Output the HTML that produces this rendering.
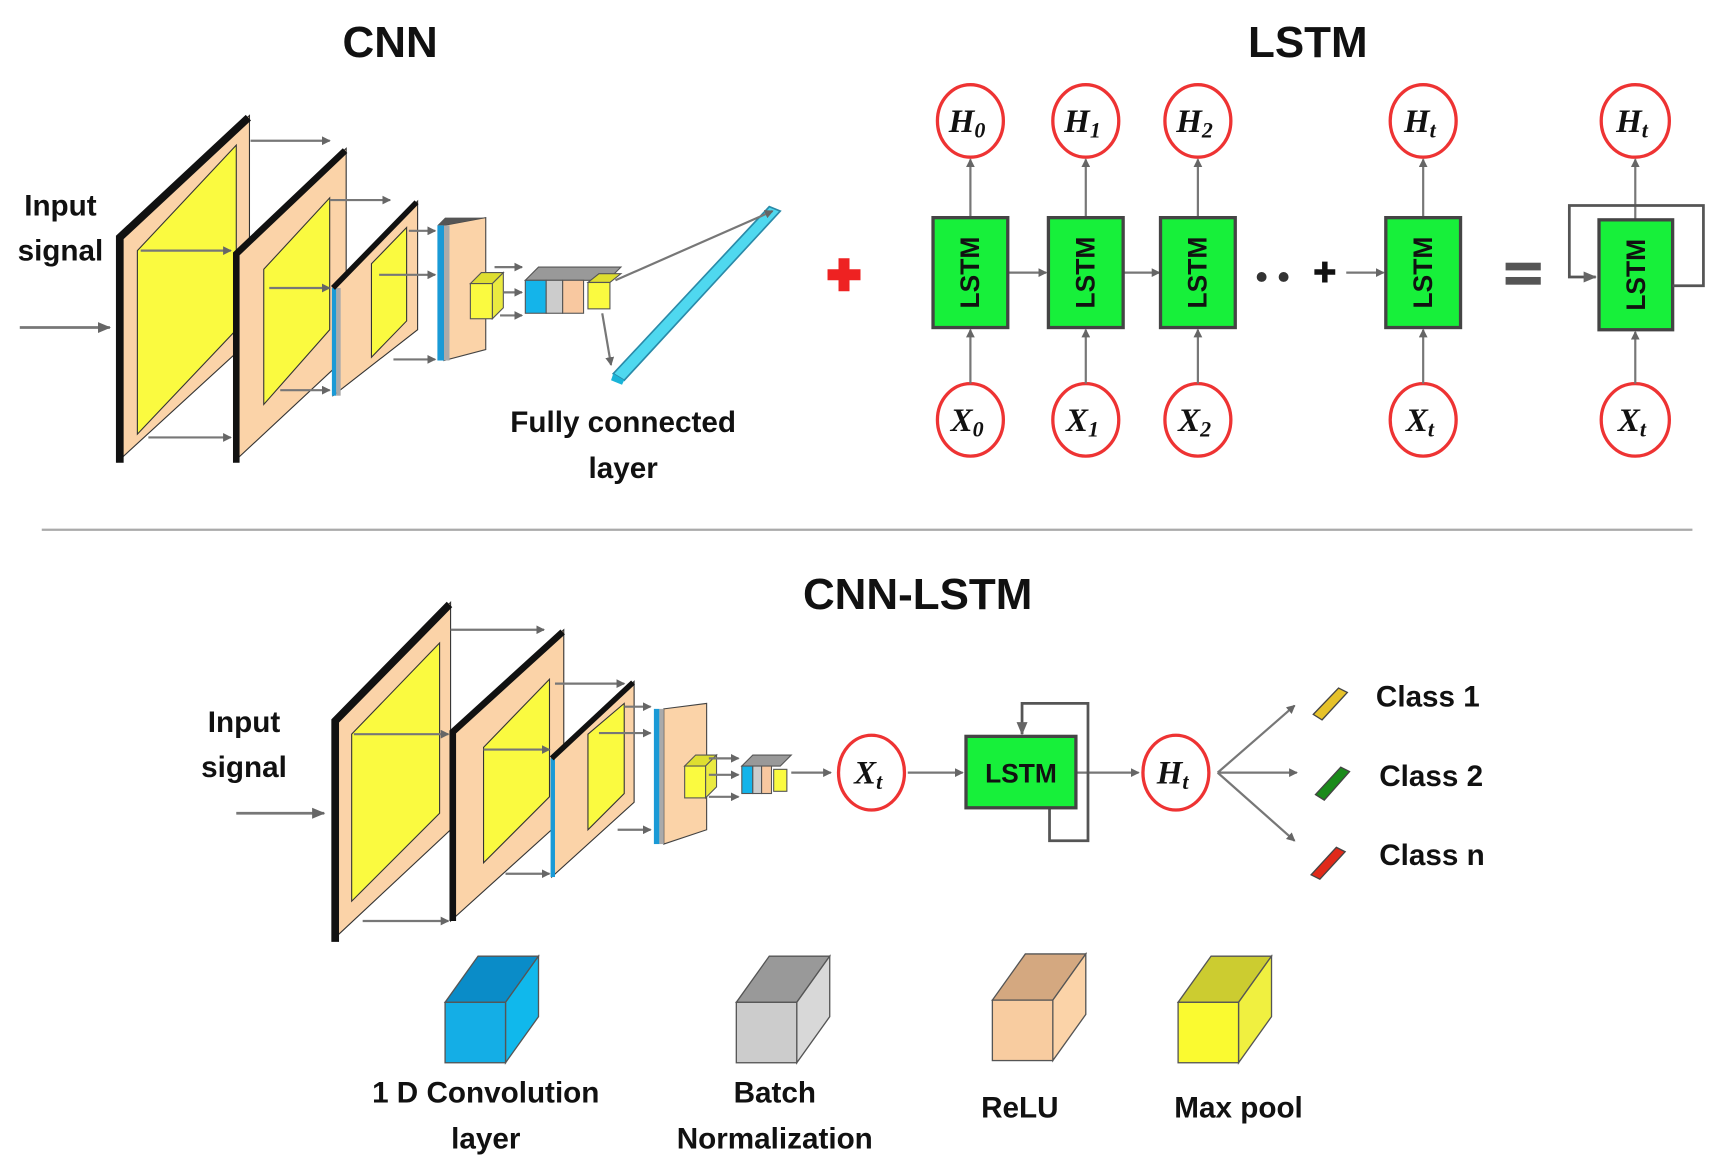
<!DOCTYPE html>
<html><head><meta charset="utf-8"><style>
html,body{margin:0;padding:0;background:#fff;}
svg{display:block;}
text{font-family:"Liberation Sans Narrow","Liberation Sans",sans-serif;font-weight:bold;fill:#111;}
.m{font-family:"Liberation Serif",serif;font-style:italic;font-weight:bold;}
</style></head><body>
<svg width="1721" height="1176" viewBox="0 0 1566 1070" xmlns="http://www.w3.org/2000/svg">
<defs>
<marker id="a" markerWidth="8" markerHeight="8" refX="7" refY="4" orient="auto" markerUnits="userSpaceOnUse"><path d="M0,0 L8,4 L0,8 z" fill="#666"/></marker>
<marker id="b" markerWidth="12" markerHeight="12" refX="11" refY="6" orient="auto" markerUnits="userSpaceOnUse"><path d="M0,1 L12,6 L0,11 z" fill="#666"/></marker>
</defs>
<rect width="1566" height="1070" fill="#fff"/>

<!-- ===== CNN top ===== -->
<text x="355" y="52" font-size="40" text-anchor="middle">CNN</text>
<text x="55" y="196" font-size="27" text-anchor="middle">Input</text>
<text x="55" y="237" font-size="27" text-anchor="middle">signal</text>
<line x1="18" y1="298" x2="100" y2="298" stroke="#777" stroke-width="2.5" marker-end="url(#b)"/>

<g stroke="#333" stroke-width="1">
<polygon points="107,215 227,105 227,310 107,420" fill="#fbd3a8"/>
<polygon points="125,228 215,132 215,300 125,395" fill="#fafa40"/>
</g>
<polyline points="109,421 109,216 226,107" fill="none" stroke="#111" stroke-width="7"/>
<g stroke="#333" stroke-width="1">
<polygon points="213,230 315,135 315,325 213,420" fill="#fbd3a8"/>
<polygon points="240,245 300,180 300,300 240,368" fill="#fafa40"/>
</g>
<polyline points="215,421 215,231 314,137" fill="none" stroke="#111" stroke-width="6"/>
<g stroke="#333" stroke-width="1">
<polygon points="303,262 380,183 380,300 303,360" fill="#fbd3a8"/>
<polygon points="338,240 370,207 370,292 338,325" fill="#fafa40"/>
</g>
<rect x="302" y="262" width="4" height="98" fill="#1a9ad6"/>
<rect x="306" y="262" width="4" height="98" fill="#aaa"/>
<polyline points="303,262 379,184" fill="none" stroke="#111" stroke-width="5"/>
<polygon points="404,205 442,198 442,318 404,328" fill="#fbd3a8" stroke="#444" stroke-width="1"/>
<rect x="398" y="205" width="6" height="123" fill="#1a9ad6"/>
<rect x="404" y="205" width="5" height="123" fill="#aaa"/>
<polygon points="398,205 405,198 442,198 404,205" fill="#555"/>
<!-- small yellow cube -->
<polygon points="428,258 438,248 458,248 448,258" fill="#dede30" stroke="#555" stroke-width="1"/>
<polygon points="448,258 458,248 458,280 448,290" fill="#eaea40" stroke="#555" stroke-width="1"/>
<rect x="428" y="258" width="20" height="32" fill="#fafa40" stroke="#555" stroke-width="1"/>
<!-- mini stack -->
<polygon points="478,255 490,243 565,243 553,255" fill="#999" stroke="#555" stroke-width="1"/>
<rect x="478" y="255" width="19" height="30" fill="#14b4ea" stroke="#555" stroke-width="1"/>
<rect x="497" y="255" width="15" height="30" fill="#ccc" stroke="#555" stroke-width="1"/>
<rect x="512" y="255" width="19" height="30" fill="#f8c8a0" stroke="#555" stroke-width="1"/>
<polygon points="535,257 545,249 565,249 555,257" fill="#dede30" stroke="#555" stroke-width="1"/>
<rect x="535" y="257" width="20" height="24" fill="#fafa40" stroke="#555" stroke-width="1"/>
<!-- FC bar -->
<polygon points="558,340 700,188 710,192 568,346" fill="#4fd8ef" stroke="#2a8aa8" stroke-width="1.5"/>
<polygon points="558,340 568,346 566,350 556,346" fill="#1ab4d8"/>
<g stroke="#777" stroke-width="2" marker-end="url(#a)">
<line x1="228" y1="128" x2="300" y2="128"/>
<line x1="128" y1="228" x2="210" y2="228"/>
<line x1="135" y1="398" x2="210" y2="398"/>
<line x1="300" y1="182" x2="355" y2="182"/>
<line x1="245" y1="262" x2="300" y2="262"/>
<line x1="255" y1="355" x2="300" y2="355"/>
<line x1="372" y1="210" x2="396" y2="210"/>
<line x1="345" y1="250" x2="396" y2="250"/>
<line x1="358" y1="327" x2="396" y2="327"/>
<line x1="450" y1="243" x2="475" y2="243"/>
<line x1="458" y1="266" x2="475" y2="266"/>
<line x1="455" y1="287" x2="475" y2="287"/>
<line x1="560" y1="255" x2="703" y2="192"/>
<line x1="548" y1="285" x2="556" y2="332"/>
</g>
<text x="567" y="393" font-size="27" text-anchor="middle">Fully connected</text>
<text x="567" y="435" font-size="27" text-anchor="middle">layer</text>
<!-- red cross -->
<path d="M763,235 h10 v10 h10 v10 h-10 v10 h-10 v-10 h-10 v-10 h10 z" fill="#ee2222"/>

<!-- ===== LSTM top ===== -->
<text x="1190" y="52" font-size="40" text-anchor="middle">LSTM</text>
<g fill="#fff" stroke="#ee3333" stroke-width="3">
<ellipse cx="883" cy="110" rx="30" ry="33"/><ellipse cx="988" cy="110" rx="30" ry="33"/><ellipse cx="1090" cy="110" rx="30" ry="33"/><ellipse cx="1295" cy="110" rx="30" ry="33"/><ellipse cx="1488" cy="110" rx="31" ry="33"/>
<ellipse cx="883" cy="382" rx="30" ry="33"/><ellipse cx="988" cy="382" rx="30" ry="33"/><ellipse cx="1090" cy="382" rx="30" ry="33"/><ellipse cx="1295" cy="382" rx="30" ry="33"/><ellipse cx="1488" cy="382" rx="31" ry="33"/>
</g>
<g class="m" font-size="30" text-anchor="middle">
<text class="m" x="880" y="120">H<tspan font-size="20" dy="5">0</tspan></text>
<text class="m" x="985" y="120">H<tspan font-size="20" dy="5">1</tspan></text>
<text class="m" x="1087" y="120">H<tspan font-size="20" dy="5">2</tspan></text>
<text class="m" x="1292" y="120">H<tspan font-size="20" dy="5">t</tspan></text>
<text class="m" x="1485" y="120">H<tspan font-size="20" dy="5">t</tspan></text>
<text class="m" x="880" y="392">X<tspan font-size="20" dy="5">0</tspan></text>
<text class="m" x="985" y="392">X<tspan font-size="20" dy="5">1</tspan></text>
<text class="m" x="1087" y="392">X<tspan font-size="20" dy="5">2</tspan></text>
<text class="m" x="1292" y="392">X<tspan font-size="20" dy="5">t</tspan></text>
<text class="m" x="1485" y="392">X<tspan font-size="20" dy="5">t</tspan></text>
</g>
<g stroke="#777" stroke-width="2" marker-end="url(#a)">
<line x1="883" y1="198" x2="883" y2="145"/><line x1="988" y1="198" x2="988" y2="145"/><line x1="1090" y1="198" x2="1090" y2="145"/><line x1="1295" y1="198" x2="1295" y2="145"/><line x1="1488" y1="200" x2="1488" y2="145"/>
<line x1="883" y1="349" x2="883" y2="300"/><line x1="988" y1="349" x2="988" y2="300"/><line x1="1090" y1="349" x2="1090" y2="300"/><line x1="1295" y1="349" x2="1295" y2="300"/><line x1="1488" y1="349" x2="1488" y2="302"/>
<line x1="918" y1="248" x2="952" y2="248"/><line x1="1023" y1="248" x2="1055" y2="248"/><line x1="1225" y1="248" x2="1259" y2="248"/>
</g>
<g fill="#17f03a" stroke="#444" stroke-width="3">
<rect x="849" y="198" width="68" height="100"/><rect x="954" y="198" width="68" height="100"/><rect x="1056" y="198" width="68" height="100"/><rect x="1261" y="198" width="68" height="100"/><rect x="1455" y="200" width="67" height="100"/>
</g>
<g font-size="24" text-anchor="middle">
<text transform="translate(891,248) rotate(-90)">LSTM</text>
<text transform="translate(996,248) rotate(-90)">LSTM</text>
<text transform="translate(1098,248) rotate(-90)">LSTM</text>
<text transform="translate(1303,248) rotate(-90)">LSTM</text>
<text transform="translate(1497,250) rotate(-90)">LSTM</text>
</g>
<circle cx="1148" cy="252" r="4.5" fill="#333"/><circle cx="1168" cy="252" r="4.5" fill="#333"/>
<path d="M1196,245 h7 v-7 h5 v7 h7 v5 h-7 v7 h-5 v-7 h-7 z" fill="#111"/>
<rect x="1370" y="239" width="32" height="7" fill="#555"/><rect x="1370" y="252" width="32" height="7" fill="#555"/>
<polyline points="1522,260 1550,260 1550,187 1428,187 1428,252 1452,252" fill="none" stroke="#555" stroke-width="2.5" marker-end="url(#b)"/>

<line x1="38" y1="482" x2="1540" y2="482" stroke="#aaa" stroke-width="2"/>

<!-- ===== CNN-LSTM ===== -->
<text x="835" y="554" font-size="40" text-anchor="middle">CNN-LSTM</text>
<text x="222" y="666" font-size="27" text-anchor="middle">Input</text>
<text x="222" y="707" font-size="27" text-anchor="middle">signal</text>
<line x1="215" y1="740" x2="295" y2="740" stroke="#777" stroke-width="2.5" marker-end="url(#b)"/>

<g stroke="#333" stroke-width="1">
<polygon points="303,655 410,548 410,755 303,855" fill="#fbd3a8"/>
<polygon points="320,668 400,585 400,740 320,820" fill="#fafa40"/>
</g>
<polyline points="305,857 305,656 409,550" fill="none" stroke="#111" stroke-width="7"/>
<g stroke="#333" stroke-width="1">
<polygon points="410,665 513,573 513,745 410,838" fill="#fbd3a8"/>
<polygon points="440,680 500,618 500,725 440,785" fill="#fafa40"/>
</g>
<polyline points="412,838 412,666 512,575" fill="none" stroke="#111" stroke-width="6"/>
<g stroke="#333" stroke-width="1">
<polygon points="502,690 577,620 577,730 502,798" fill="#fbd3a8"/>
<polygon points="535,668 568,640 568,722 535,755" fill="#fafa40"/>
</g>
<rect x="501" y="690" width="4" height="108" fill="#1a9ad6"/>
<polyline points="502,690 576,621" fill="none" stroke="#111" stroke-width="5"/>
<polygon points="604,645 643,640 643,755 604,768" fill="#fbd3a8" stroke="#444" stroke-width="1"/>
<rect x="595" y="645" width="5" height="123" fill="#1a9ad6"/>
<rect x="600" y="645" width="4" height="123" fill="#aaa"/>
<polygon points="623,697 633,687 652,687 642,697" fill="#dede30" stroke="#555" stroke-width="1"/>
<polygon points="642,697 652,687 652,716 642,726" fill="#eaea40" stroke="#555" stroke-width="1"/>
<rect x="623" y="697" width="19" height="29" fill="#fafa40" stroke="#555" stroke-width="1"/>
<polygon points="675,697 685,687 720,687 710,697" fill="#999" stroke="#555" stroke-width="1"/>
<rect x="675" y="697" width="10" height="25" fill="#14b4ea" stroke="#555" stroke-width="1"/>
<rect x="685" y="697" width="8" height="25" fill="#ccc" stroke="#555" stroke-width="1"/>
<rect x="693" y="697" width="9" height="25" fill="#f8c8a0" stroke="#555" stroke-width="1"/>
<rect x="704" y="700" width="12" height="20" fill="#fafa40" stroke="#555" stroke-width="1"/>
<g stroke="#777" stroke-width="2" marker-end="url(#a)">
<line x1="410" y1="573" x2="495" y2="573"/>
<line x1="322" y1="668" x2="408" y2="668"/>
<line x1="330" y1="838" x2="408" y2="838"/>
<line x1="505" y1="622" x2="568" y2="622"/>
<line x1="440" y1="682" x2="500" y2="682"/>
<line x1="460" y1="795" x2="500" y2="795"/>
<line x1="568" y1="643" x2="592" y2="643"/>
<line x1="545" y1="667" x2="592" y2="667"/>
<line x1="562" y1="755" x2="592" y2="755"/>
<line x1="645" y1="690" x2="672" y2="690"/>
<line x1="645" y1="705" x2="672" y2="705"/>
<line x1="645" y1="725" x2="672" y2="725"/>
<line x1="720" y1="703" x2="756" y2="703"/>
<line x1="826" y1="703" x2="876" y2="703"/>
<line x1="980" y1="703" x2="1036" y2="703"/>
<line x1="1108" y1="703" x2="1178" y2="642"/>
<line x1="1108" y1="703" x2="1180" y2="703"/>
<line x1="1108" y1="703" x2="1178" y2="765"/>
</g>
<ellipse cx="793" cy="703" rx="30" ry="34" fill="#fff" stroke="#ee3333" stroke-width="3"/>
<text class="m" x="790" y="713" font-size="30" text-anchor="middle">X<tspan font-size="20" dy="5">t</tspan></text>
<ellipse cx="1070" cy="703" rx="30" ry="34" fill="#fff" stroke="#ee3333" stroke-width="3"/>
<text class="m" x="1067" y="713" font-size="30" text-anchor="middle">H<tspan font-size="20" dy="5">t</tspan></text>
<polyline points="955,735 955,765 990,765 990,640 930,640 930,668" fill="none" stroke="#555" stroke-width="2.5" marker-end="url(#b)"/>
<rect x="879" y="670" width="100" height="65" fill="#17f03a" stroke="#444" stroke-width="3"/>
<text x="929" y="712" font-size="24" text-anchor="middle">LSTM</text>
<!-- class bars -->
<g stroke="#444" stroke-width="1.2">
<polygon points="1195,650 1218,626 1226,630 1203,655" fill="#e6c22a"/>
<polygon points="1197,723 1220,698 1228,702 1205,728" fill="#1a8a1a"/>
<polygon points="1193,796 1216,771 1224,775 1201,800" fill="#e02a1a"/>
</g>
<text x="1252" y="643" font-size="27">Class 1</text>
<text x="1255" y="715" font-size="27">Class 2</text>
<text x="1255" y="787" font-size="27">Class n</text>

<!-- legend cubes -->
<g stroke="#555" stroke-width="1.2">
<polygon points="405,912 435,870 490,870 460,912" fill="#0a8cc8"/>
<polygon points="460,912 490,870 490,925 460,967" fill="#10b8ec"/>
<rect x="405" y="912" width="55" height="55" fill="#14aee6"/>
<polygon points="670,912 700,870 755,870 725,912" fill="#999"/>
<polygon points="725,912 755,870 755,925 725,967" fill="#d8d8d8"/>
<rect x="670" y="912" width="55" height="55" fill="#ccc"/>
<polygon points="903,910 933,868 988,868 958,910" fill="#d4a880"/>
<polygon points="958,910 988,868 988,923 958,965" fill="#fbd3a8"/>
<rect x="903" y="910" width="55" height="55" fill="#f8cca0"/>
<polygon points="1072,912 1102,870 1157,870 1127,912" fill="#cccc30"/>
<polygon points="1127,912 1157,870 1157,925 1127,967" fill="#f0f040"/>
<rect x="1072" y="912" width="55" height="55" fill="#fafa30"/>
</g>
<text x="442" y="1003" font-size="27" text-anchor="middle">1 D Convolution</text>
<text x="442" y="1045" font-size="27" text-anchor="middle">layer</text>
<text x="705" y="1003" font-size="27" text-anchor="middle">Batch</text>
<text x="705" y="1045" font-size="27" text-anchor="middle">Normalization</text>
<text x="928" y="1017" font-size="27" text-anchor="middle">ReLU</text>
<text x="1127" y="1017" font-size="27" text-anchor="middle">Max pool</text>
</svg>
</body></html>
